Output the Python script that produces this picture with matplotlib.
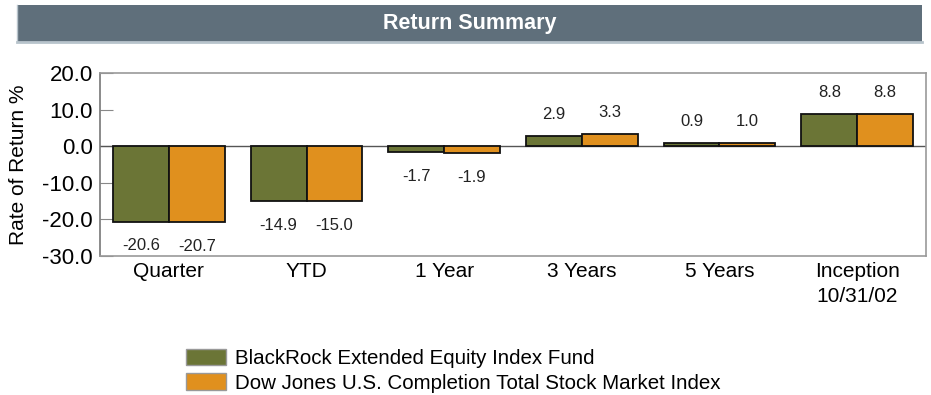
import matplotlib
matplotlib.use("Agg")
import matplotlib.pyplot as plt
import matplotlib.patches as mpatches
import numpy as np

plt.rcParams['font.family'] = ['Liberation Sans', 'DejaVu Sans']

categories = ["Quarter", "YTD", "1 Year", "3 Years", "5 Years", "Inception\n10/31/02"]
fund = [-20.6, -14.9, -1.7, 2.9, 0.9, 8.8]
index = [-20.7, -15.0, -1.9, 3.3, 1.0, 8.8]
series_names = ["BlackRock Extended Equity Index Fund",
                "Dow Jones U.S. Completion Total Stock Market Index"]
yticks = [20.0, 10.0, 0.0, -10.0, -20.0, -30.0]

green = "#6b7536"
orange = "#e0901e"

W, H = 931, 395
fig = plt.figure(figsize=(W / 100, H / 100), dpi=100)

# Title banner
banner = fig.add_axes([17 / W, 1 - 42 / H, 905 / W, 37 / H])
banner.set_facecolor("#5f6f7b")
banner.set_xticks([]); banner.set_yticks([])
for s in banner.spines.values():
    s.set_color("#b8c4cc")
    s.set_linewidth(1)
banner.spines["top"].set_visible(False)
banner.spines["right"].set_visible(False)
banner.spines["bottom"].set_linewidth(2)
banner.text(0.5, 0.5, "Return Summary", color="white", fontsize=15.5, fontweight="bold",
            ha="center", va="center", transform=banner.transAxes)

ax = fig.add_axes([100 / W, 1 - 256 / H, 826 / W, 183 / H])
x = np.arange(len(categories))
bw = 0.405
b1 = ax.bar(x - bw / 2, fund, bw, color=green, edgecolor="#111111", linewidth=1.3, zorder=3)
b2 = ax.bar(x + bw / 2, index, bw, color=orange, edgecolor="#111111", linewidth=1.3, zorder=3)

for bars, vals in ((b1, fund), (b2, index)):
    for r, v in zip(bars, vals):
        cx = r.get_x() + r.get_width() / 2
        dy = -17.5 if v < 0 else 15.5
        ax.annotate(f"{v:.1f}", (cx, v), xytext=(0, dy), textcoords="offset points",
                    ha="center", va="center", fontsize=12, color="#222222")

ax.axhline(0, color="#555555", lw=1, zorder=2)
ax.set_ylim(-30, 20)
ax.set_xlim(-0.5, len(categories) - 0.5)
ax.set_yticks(yticks)
ax.set_yticklabels([f"{t:.1f}" for t in yticks], fontsize=16)
ax.tick_params(axis="y", direction="in", length=9, color="#888888", pad=5)
ax.set_xticks(x)
ax.set_xticklabels(categories, fontsize=15, linespacing=1.4)
ax.tick_params(axis="x", length=0, pad=4)
for s in ax.spines.values():
    s.set_color("#999999")
    s.set_linewidth(1.2)
ax.spines["left"].set_color("#777777")
ax.set_ylabel("Rate of Return %", fontsize=15, labelpad=10)

# Legend
handles = [mpatches.Patch(facecolor=green, edgecolor="#999999", label=series_names[0]),
           mpatches.Patch(facecolor=orange, edgecolor="#999999", label=series_names[1])]
fig.legend(handles=handles, loc="upper left", bbox_to_anchor=(186 / W, 1 - 349 / H),
           frameon=False, fontsize=14.8, handlelength=1.95, handleheight=0.85,
           handletextpad=0.44, labelspacing=0.24, borderaxespad=0, borderpad=0)

fig.savefig("out.png", dpi=100)
